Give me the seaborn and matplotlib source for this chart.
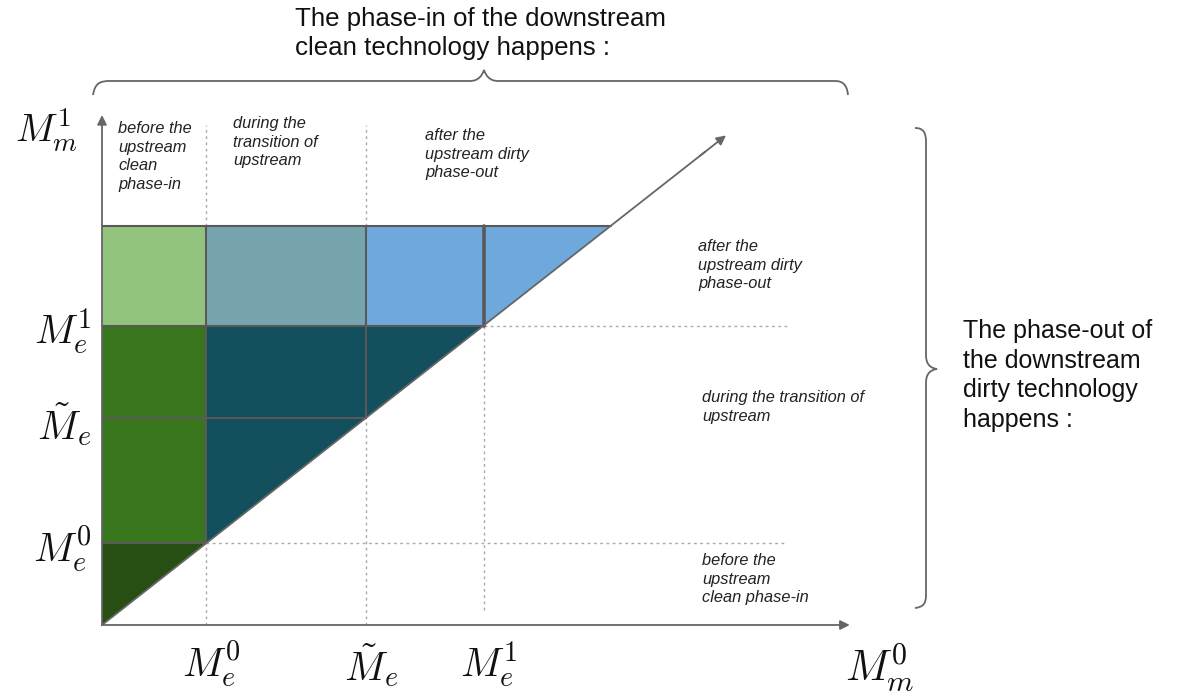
import numpy as np
import pandas as pd
import matplotlib
matplotlib.use("Agg")
import matplotlib.pyplot as plt
from matplotlib.patches import Polygon, PathPatch
from matplotlib.path import Path
import seaborn as sns

# thresholds, same units on both axes (the diagonal is y = x)
tick_labels = [r"$M_e^0$", r"$\tilde{M}_e$", r"$M_e^1$"]
tick_values = [1.0, 2.54, 3.67]
m_top = 4.89        # upper edge of the coloured blocks
diag_end = 6.0
x_axis_end = 7.19
y_axis_end = 6.25

region_colors = ["#274e13", "#38761d", "#134f5c", "#93c47d", "#76a5af", "#6fa8dc"]

col_notes = ["before the\nupstream\nclean\nphase-in",
             "during the\ntransition of\nupstream",
             "after the\nupstream dirty\nphase-out"]
row_notes = ["before the\nupstream\nclean phase-in",
             "during the transition of\nupstream",
             "after the\nupstream dirty\nphase-out"]
top_title = "The phase-in of the downstream\nclean technology happens :"
side_title = "The phase-out of\nthe downstream\ndirty technology\nhappens :"

W, H = 1178, 693
X0, Y0, KX, KY = 102, 625, 104.0, 81.6


def px(x):
    '''pixel column -> data x'''
    return (x - X0) / KX


def py(y):
    '''pixel row -> data y'''
    return (Y0 - y) / KY


def brace(ax, pts):
    '''
    Draw a curly brace from a list of path steps given in pixels
    '''
    verts, codes = [], []
    for code, p in pts:
        for q in p:
            verts.append((px(q[0]), py(q[1])))
        codes += [code] * len(p)
    ax.add_patch(PathPatch(Path(verts, codes), fill=False, ec="#666666", lw=1.3))


sns.set_theme(style="white")
plt.rcParams["font.family"] = ["Liberation Sans", "DejaVu Sans"]
plt.rcParams["mathtext.fontset"] = "cm"

fig = plt.figure(figsize=(W / 100, H / 100), dpi=100)
ax = fig.add_axes([0, 0, 1, 1])
ax.set_xlim(px(0), px(W))
ax.set_ylim(py(H), py(0))
ax.axis("off")

e0, et, e1 = tick_values
regions = [
    [(0, 0), (0, e0), (e0, e0)],
    [(0, e0), (0, e1), (e0, e1), (e0, e0)],
    [(e0, e0), (e0, e1), (e1, e1)],
    [(0, e1), (0, m_top), (e0, m_top), (e0, e1)],
    [(e0, e1), (e0, m_top), (et, m_top), (et, e1)],
    [(et, e1), (et, m_top), (m_top, m_top), (e1, e1)],
]
for poly, c in zip(regions, region_colors):
    ax.add_patch(Polygon(poly, closed=True, fc=c, ec="none", zorder=1))

# cell borders
edge = dict(color="#595959", lw=1.5, zorder=3)
ax.plot([0, et], [et, et], **edge)
ax.plot([et, et], [et, m_top], **edge)
ax.plot([e0, e0], [e0, m_top], **edge)
ax.plot([0, e1], [e1, e1], **edge)
ax.plot([0, e0], [e0, e0], **edge)
ax.plot([0, m_top], [m_top, m_top], **edge)
ax.plot([e1, e1], [e1, m_top], color="#595959", lw=2.6, zorder=3)

# dotted guides
dot = dict(color="#aaaaaa", lw=1.0, ls=(0, (2, 2.5)), zorder=2)
ax.plot([e0, e0], [0, e0], **dot)
ax.plot([et, et], [0, et], **dot)
ax.plot([e1, e1], [py(610), e1], **dot)
ax.plot([e0, e0], [m_top, py(125)], **dot)
ax.plot([et, et], [m_top, py(125)], **dot)
ax.plot([e0, px(787)], [e0, e0], **dot)
ax.plot([e1, px(790)], [e1, e1], **dot)

# diagonal and axes
diag = pd.DataFrame({"x": [0, diag_end - 0.2], "y": [0, diag_end - 0.2]})
sns.lineplot(data=diag, x="x", y="y", ax=ax, color="#666666", lw=1.3, zorder=4)
arr = dict(arrowstyle="-|>", color="#666666", lw=1.3, mutation_scale=14,
           shrinkA=0, shrinkB=0)
ax.annotate("", xy=(diag_end, diag_end), xytext=(diag_end - 0.25, diag_end - 0.25),
            arrowprops=arr, zorder=4)
ax.annotate("", xy=(0, y_axis_end), xytext=(0, 0), arrowprops=arr, zorder=5)
ax.annotate("", xy=(x_axis_end, 0), xytext=(0, 0), arrowprops=arr, zorder=5)

# tick labels
for lab, v in zip(tick_labels, tick_values):
    ax.text(v + 0.05, py(665), lab, ha="center", va="center", fontsize=29, color="#111111")
    ax.text(px(92), v - 0.08, lab, ha="right", va="center", fontsize=29, color="#111111")
ax.text(px(78), py(130), r"$M_m^1$", ha="right", va="center", fontsize=28, color="#111111")
ax.text(px(880), py(668), r"$M_m^0$", ha="center", va="center", fontsize=31, color="#111111")

# notes above the columns and beside the rows
note = dict(fontsize=11.8, style="italic", color="#222222", va="top", linespacing=1.3)
for s, (x, y) in zip(col_notes, [(118, 121), (233, 116), (425, 128)]):
    ax.text(px(x), py(y), s, **note)
for s, (x, y) in zip(row_notes, [(702, 553), (702, 390), (698, 239)]):
    ax.text(px(x), py(y), s, **note)

ax.text(px(295), py(7), top_title, fontsize=18.6, va="top", ha="left",
        color="#111111", linespacing=1.25)
ax.text(px(963), py(319), side_title, fontsize=18, va="top", ha="left",
        color="#111111", linespacing=1.3)

M, C, L = Path.MOVETO, Path.CURVE4, Path.LINETO
brace(ax, [(M, [(93, 95)]), (C, [(95, 83), (100, 81), (110, 81)]),
           (L, [(470, 81)]), (C, [(478, 81), (482, 76), (484, 70)]),
           (C, [(486, 76), (490, 81), (498, 81)]), (L, [(835, 81)]),
           (C, [(843, 81), (847, 85), (848, 95)])])
brace(ax, [(M, [(915, 128)]), (C, [(923, 128), (926, 132), (926, 142)]),
           (L, [(926, 355)]), (C, [(926, 364), (930, 368), (937, 369)]),
           (C, [(930, 370), (926, 374), (926, 383)]), (L, [(926, 595)]),
           (C, [(926, 604), (923, 607), (915, 608)])])

fig.savefig("out.png", dpi=100)
